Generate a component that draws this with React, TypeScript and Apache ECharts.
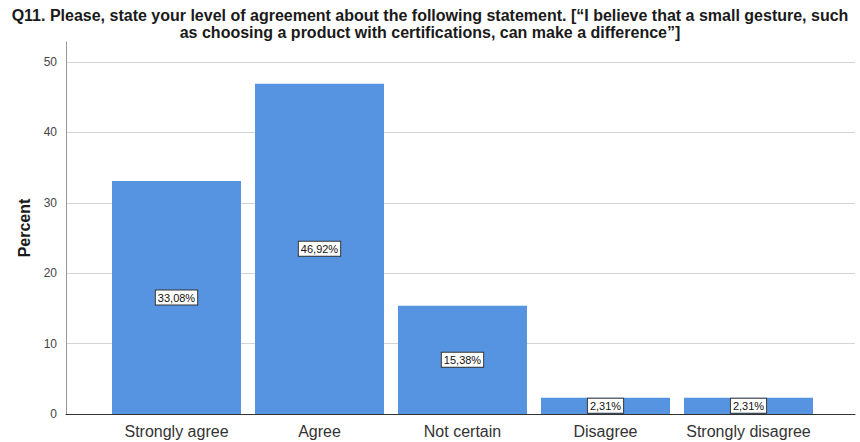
import React, { useEffect, useRef } from "react";
import * as echarts from "echarts";

const categories = ["Strongly agree", "Agree", "Not certain", "Disagree", "Strongly disagree"];
const percents = [33.08, 46.92, 15.38, 2.31, 2.31];
const titleLines = [
  "Q11. Please, state your level of agreement about the following statement. [“I believe that a small gesture, such",
  "as choosing a product with certifications, can make a difference”]",
];
const yTicks = { min: 0, max: 52.84, interval: 10 };

export default function App() {
  const ref = useRef<HTMLDivElement>(null);
  useEffect(() => {
    document.body.style.margin = "0";
    if (!ref.current) return;
    const chart = echarts.init(ref.current, null, { renderer: "svg" });
    const font = "'Liberation Sans', Arial, sans-serif";
    chart.setOption({
      animation: false,
      backgroundColor: "#ffffff",
      title: {
        text: titleLines.join("\n"),
        left: "center",
        top: 2,
        textStyle: {
          fontFamily: font,
          fontSize: 16,
          fontWeight: "bold",
          color: "#1a1a1a",
          lineHeight: 17,
        },
      },
      grid: [
        { left: 66, right: 5, top: 42, bottom: 28, containLabel: false },
        { left: 105, right: 40, top: 42, bottom: 28, containLabel: false },
      ],
      xAxis: [
        {
          gridIndex: 0,
          type: "value",
          min: 0,
          max: 1,
          axisLine: { show: true, lineStyle: { color: "#333333", width: 1 } },
          axisTick: { show: false },
          axisLabel: { show: false },
          splitLine: { show: false },
        },
        {
          gridIndex: 1,
          type: "category",
          data: categories,
          axisLine: { show: false },
          axisTick: { show: false },
          axisLabel: {
            fontFamily: font,
            fontSize: 16,
            color: "#333333",
            margin: 9,
            interval: 0,
          },
        },
      ],
      yAxis: [
        {
          gridIndex: 0,
          type: "value",
          min: yTicks.min,
          max: yTicks.max,
          interval: yTicks.interval,
          name: "Percent",
          nameLocation: "middle",
          nameGap: 34,
          nameTextStyle: {
            fontFamily: font,
            fontSize: 16,
            fontWeight: "bold",
            color: "#1a1a1a",
          },
          axisLine: { show: true, lineStyle: { color: "#999999", width: 1 } },
          axisTick: { show: false },
          axisLabel: {
            fontFamily: font,
            fontSize: 12,
            color: "#444444",
            margin: 9,
            showMaxLabel: false,
          },
          splitLine: {
            show: true,
            showMinLine: false,
            showMaxLine: false,
            lineStyle: { color: "#d4d4d4", width: 1 },
          },
        },
        {
          gridIndex: 1,
          type: "value",
          min: yTicks.min,
          max: yTicks.max,
          interval: yTicks.interval,
          show: false,
          splitLine: { show: false },
        },
      ],
      series: [
        {
          type: "bar",
          xAxisIndex: 1,
          yAxisIndex: 1,
          data: percents,
          barWidth: 129,
          itemStyle: { color: "#5694e2" },
          label: {
            show: true,
            position: "inside",
            formatter: (p: any) => p.value.toFixed(2).replace(".", ",") + "%",
            fontFamily: font,
            fontSize: 11,
            color: "#111111",
            backgroundColor: "#ffffff",
            borderColor: "#333333",
            borderWidth: 1,
            padding: [2, 2, 1, 2],
          },
        },
      ],
    });
    return () => chart.dispose();
  }, []);
  return <div ref={ref} style={{ width: 860, height: 442 }} />;
}
